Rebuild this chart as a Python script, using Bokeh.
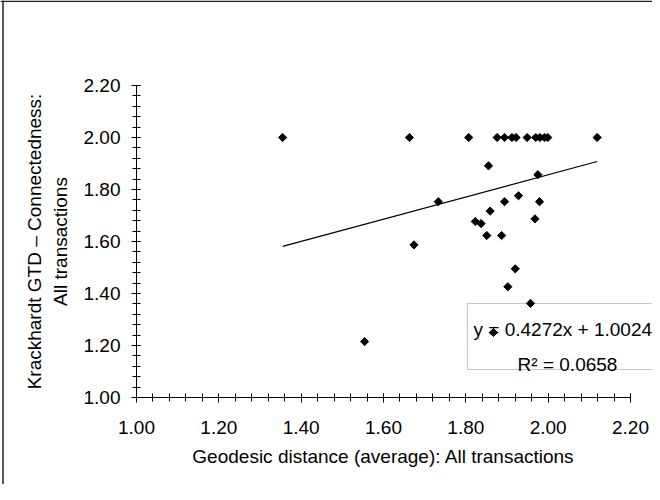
import numpy as np
from bokeh.plotting import figure
from bokeh.models import (Range1d, SingleIntervalTicker, NumeralTickFormatter,
                          Span, BoxAnnotation, Label)
from bokeh.embed import file_html
from bokeh.resources import INLINE

# ---- data ----
geodesic_avg = [1.355, 1.663, 1.807, 1.876, 1.894, 1.912, 1.922, 1.949, 1.970,
                1.980, 1.991, 1.999, 2.119,
                1.855, 1.975, 1.733, 1.928, 1.894, 1.979, 1.859, 1.823, 1.837,
                1.968, 1.851, 1.887, 1.920, 1.902, 1.957, 1.867, 1.674, 1.554]
krackhardt_gtd = [2.00, 2.00, 2.00, 2.00, 2.00, 2.00, 2.00, 2.00, 2.00,
                  2.00, 2.00, 2.00, 2.00,
                  1.891, 1.857, 1.753, 1.776, 1.753, 1.753, 1.717, 1.677, 1.669,
                  1.687, 1.623, 1.623, 1.495, 1.426, 1.362, 1.250, 1.587, 1.215]
trend_slope = 0.4272
trend_intercept = 1.0024
trend_r2 = 0.0658
axis_min = 1.00
axis_max = 2.20
axis_step = 0.20

x_title = "Geodesic distance (average): All transactions"
y_title = "Krackhardt GTD \u2013 Connectedness:\nAll transactions"

# ---- layout ----
W, H = 652, 484
PXX = 411.67          # px per x unit
PXY = 260.0           # px per y unit
X0_PX = 136           # canvas x of axis_min
Y0_PX = 397           # canvas y (from top) of axis_min

def dx(px):
    return axis_min + (px - X0_PX) / PXX

def dy(py):
    return axis_min + (Y0_PX - py) / PXY

FONT = "Liberation Sans"
FS = "19px"

p = figure(width=W, height=H, output_backend="svg", toolbar_location=None,
           x_range=Range1d(dx(0), dx(W)), y_range=Range1d(dy(H), dy(0)),
           min_border=0, min_border_left=0, min_border_right=0,
           min_border_top=0, min_border_bottom=0)
p.outline_line_color = None
p.background_fill_color = "white"
p.border_fill_color = "white"
p.xgrid.visible = False
p.ygrid.visible = False

for ax in (p.xaxis[0], p.yaxis[0]):
    ax.fixed_location = axis_min
    ax.bounds = (axis_min, axis_max)
    ax.ticker = SingleIntervalTicker(interval=axis_step, num_minor_ticks=5)
    ax.formatter = NumeralTickFormatter(format="0.00")
    ax.axis_line_color = "black"
    ax.axis_line_width = 1
    ax.major_tick_line_color = "black"
    ax.minor_tick_line_color = "black"
    ax.major_tick_in = 4
    ax.major_tick_out = 5
    ax.minor_tick_in = 4
    ax.minor_tick_out = 4
    ax.major_label_text_font = FONT
    ax.major_label_text_font_size = FS
    ax.major_label_text_color = "black"
    ax.axis_label_text_font = FONT
    ax.axis_label_text_font_size = FS
    ax.axis_label_text_font_style = "normal"
    ax.axis_label_text_color = "black"

p.xaxis.axis_label = x_title
p.yaxis.axis_label = y_title
p.xaxis.major_label_standoff = 18
p.yaxis.major_label_standoff = 11
p.xaxis.axis_label_standoff = 9
p.yaxis.axis_label_standoff = 10

# chart border (left and top visible)
p.add_layout(Span(location=dx(2.5), dimension="height", line_color="#222222", line_width=1.5))
p.add_layout(Span(location=dy(0.8), dimension="width", line_color="#222222", line_width=1.5))

# trendline label box
p.add_layout(BoxAnnotation(left=dx(467), right=dx(W + 40), top=dy(303), bottom=dy(369),
                           fill_color="white", fill_alpha=1.0,
                           line_color="#444444", line_width=1.2, level="underlay"))
p.add_layout(Label(x=dx(473), y=dy(329),
                   text=f"y = {trend_slope:.4f}x + {trend_intercept:.4f}",
                   text_font=FONT, text_font_size=FS, text_color="black",
                   text_align="left", text_baseline="alphabetic", level="underlay"))
p.add_layout(Label(x=dx(567), y=dy(364),
                   text=f"R\u00b2 = {trend_r2:.4f}",
                   text_font=FONT, text_font_size=FS, text_color="black",
                   text_align="center", text_baseline="alphabetic", level="underlay"))

# trendline
tx = np.array([min(geodesic_avg), max(geodesic_avg)])
p.line(tx, trend_slope * tx + trend_intercept, line_color="black", line_width=1.2)

# points
p.scatter(geodesic_avg, krackhardt_gtd, marker="square", size=5.8, angle=np.pi / 4,
          fill_color="black", line_color="black")

open("out.html", "w").write(file_html(p, INLINE))
